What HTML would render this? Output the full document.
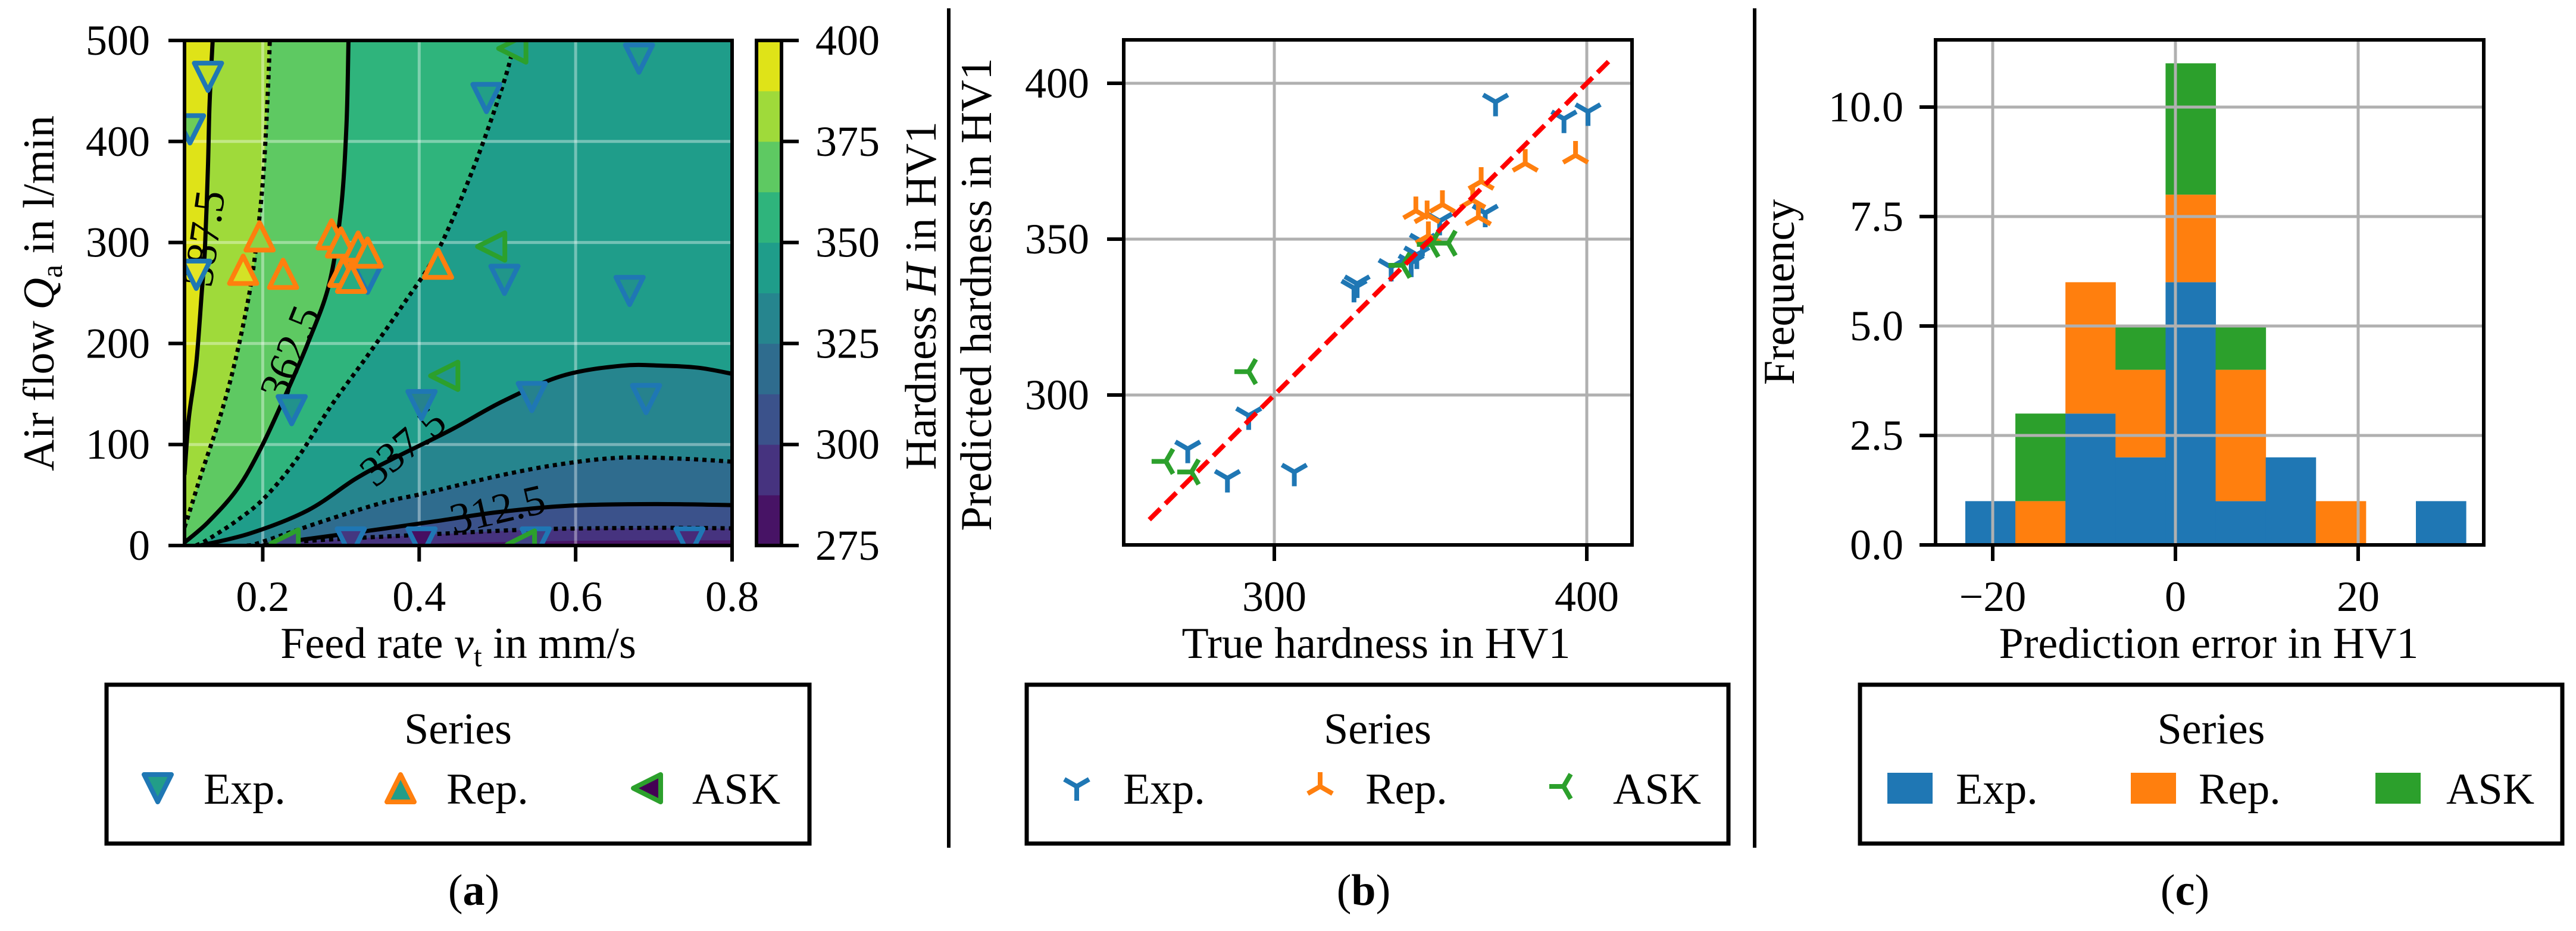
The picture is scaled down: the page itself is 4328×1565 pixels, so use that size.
<!DOCTYPE html>
<html><head><meta charset="utf-8"><title>Hardness figure</title>
<style>
html,body{margin:0;padding:0;background:#fff;}
svg{display:block;font-family:"Liberation Serif",serif;}
</style></head>
<body>
<svg id="fig" xmlns="http://www.w3.org/2000/svg" width="4328" height="1565" viewBox="0 0 4328 1565">
<defs>
<clipPath id="clipA"><rect x="310" y="68" width="920" height="849"/></clipPath>
<clipPath id="clipB"><rect x="1888" y="67" width="854" height="849"/></clipPath>
</defs>
<rect x="0" y="0" width="4328" height="1565" fill="#fff"/>
<g id="panelA"></g>
<g id="panelB"></g>
<g id="panelC"></g>
<g id="static"></g>
</svg>
<script>
// ---------- Panel (a) data ----------
const contourLevels = [287.5, 300, 312.5, 325, 337.5, 350, 362.5, 375, 387.5];
const contour287 = [[0.35,0],[0.45,3],[0.6,5],[0.8,5.5]];
const contour300 = [[0.2,0],[0.266,5],[0.412,11],[0.549,16],[0.7,17.5],[0.8,17]];
const contour312 = [[0.2,0],[0.243,5],[0.33,14],[0.421,24],[0.5,33],[0.594,39.5],[0.7,41],[0.8,40]];
const contour325 = [[0.18,0],[0.197,3],[0.281,25],[0.356,43],[0.403,51],[0.5075,70],[0.585,81],[0.6586,87],[0.734,86],[0.8,83]];
const contour337 = [[0.12,0],[0.184,12],[0.258,35],[0.3186,66],[0.364,85],[0.4395,114],[0.5075,143],[0.583,168],[0.6586,178],[0.7115,178],[0.757,176],[0.8,170]];
const contour350 = [[0.1146,0],[0.13,6],[0.1675,25],[0.202,47],[0.243,85],[0.288,139],[0.334,188],[0.379,238],[0.424,292],[0.470,375],[0.5075,457],[0.5226,500]];
const contour362 = [[0.1,3],[0.13,23],[0.1675,56],[0.198,97],[0.228,147],[0.258,201],[0.285,259],[0.300,333],[0.307,416],[0.3096,500]];
const contour375 = [[0.1,18],[0.1055,31],[0.122,72],[0.145,126],[0.164,180],[0.183,250],[0.194,312],[0.2015,375],[0.207,457],[0.209,500]];
const contour387 = [[0.1,70],[0.1055,126],[0.115,180],[0.122,250],[0.126,292],[0.130,375],[0.132,437],[0.136,500]];
const contourCurves = [contour287, contour300, contour312, contour325, contour337, contour350, contour362, contour375, contour387];
const contourSolid = [false, false, true, false, true, false, true, false, true];
const bandColors = ['#471365','#46337f','#3b528b','#2f6c8e','#26858e','#1f9d8a','#2fb47c','#5ec962','#9fda3a','#dfe318'];
const contourLabelText = ['387.5','362.5','337.5','312.5'];
const contourLabelPos = [[0.125,304],[0.235,191],[0.379,98],[0.50,36]];
const contourLabelRot = [-82,-68,-40,-13];

const aExpV = [0.130,0.107,0.115,0.681,0.486,0.509,0.669,0.334,0.237,0.403,0.544,0.690,0.3126,0.403,0.549,0.7455];
const aExpQ = [464,412,268,482,443,263,252,264,134,139,147,145,3,3,3,3];
const aExpH = [388,372,395,342,345,340,338,345,338,330,330,330,295,280,298,290];
const aRepV = [0.196,0.175,0.226,0.288,0.300,0.322,0.334,0.303,0.313,0.424];
const aRepQ = [306,273,269,308,300,296,290,271,265,279];
const aRepH = [378,392,370,362,360,352,355,350,352,352];
const aAskV = [0.519,0.492,0.432,0.228,0.530];
const aAskQ = [492,296,168,2,1];
const aAskH = [345,345,340,300,300];
const aXTicks = [0.2,0.4,0.6,0.8];
const aXTickLabels = ['0.2','0.4','0.6','0.8'];
const aYTicks = [0,100,200,300,400,500];
const cbTicks = [275,300,325,350,375,400];

// ---------- Panel (b) data ----------
const bExpTrue = [370.8,392.7,400.4,367.5,352.9,347.4,345.6,343.8,337.4,326.5,325.5,291.8,272.3,285.0,306.4];
const bExpPred = [394.0,388.6,390.9,358.4,355.8,349.1,345.0,342.4,341.0,335.7,334.3,293.4,282.7,273.3,275.3];
const bRepTrue = [396.4,380.3,366.2,363.5,365.3,353.8,345.3,348.9,349.3];
const bRepPred = [376.9,374.3,368.5,362.5,357.1,361.1,359.1,357.8,351.1];
const bAskTrue = [291.8,265.3,273.5,341.1,350.2,355.7];
const bAskPred = [307.5,278.7,275.3,341.6,348.3,348.7];
const bIdentity = [260, 407];
const bXTicks = [300,400];
const bYTicks = [300,350,400];

// ---------- Panel (c) data ----------
const cBinStart = -23.0;
const cBinWidth = 5.48;
const cExpCounts = [1,0,3,2,6,1,2,0,0,1];
const cRepCounts = [0,1,3,2,2,3,0,1,0,0];
const cAskCounts = [0,2,0,1,3,1,0,0,0,0];
const cXTicks = [-20,0,20];
const cXTickLabels = ['\u221220','0','20'];
const cYTicks = [0,2.5,5,7.5,10];
const cYTickLabels = ['0.0','2.5','5.0','7.5','10.0'];

const BLUE='#1f77b4', ORANGE='#ff7f0e', GREEN='#2ca02c';
const NS='http://www.w3.org/2000/svg';
function mk(tag, attrs, parent){const e=document.createElementNS(NS,tag);for(const k in attrs)e.setAttribute(k,attrs[k]);if(parent)parent.appendChild(e);return e;}
const VIR=['#440154','#482475','#414487','#355f8d','#2a788e','#21918c','#22a884','#44bf70','#7ad151','#bddf26','#fde725'];
function hex(c){return [parseInt(c.slice(1,3),16),parseInt(c.slice(3,5),16),parseInt(c.slice(5,7),16)];}
function viridis(t){t=Math.max(0,Math.min(1,t));const p=t*10;const i=Math.min(9,Math.floor(p));const f=p-i;const a=hex(VIR[i]),b=hex(VIR[i+1]);return 'rgb('+a.map((v,k)=>Math.round(v+(b[k]-v)*f)).join(',')+')';}
function smooth(pts){let d='M'+pts[0][0].toFixed(1)+','+pts[0][1].toFixed(1);for(let i=0;i<pts.length-1;i++){const p0=pts[i-1]||pts[i],p1=pts[i],p2=pts[i+1],p3=pts[i+2]||p2;const c1=[p1[0]+(p2[0]-p0[0])/6,p1[1]+(p2[1]-p0[1])/6];const c2=[p2[0]-(p3[0]-p1[0])/6,p2[1]-(p3[1]-p1[1])/6];d+=' C'+c1[0].toFixed(1)+','+c1[1].toFixed(1)+' '+c2[0].toFixed(1)+','+c2[1].toFixed(1)+' '+p2[0].toFixed(1)+','+p2[1].toFixed(1);}return d;}
function txt(parent,x,y,s,opts){const t=mk('text',Object.assign({x:x,y:y,'font-size':72,fill:'#000'},opts||{}),parent);t.textContent=s;return t;}

// ========== PANEL A ==========
const A=document.getElementById('panelA');
const xa=v=>310+(v-0.1)*1314.3;
const ya=q=>917-q*1.698;
const gFill=mk('g',{'clip-path':'url(#clipA)'},A);


mk('rect',{x:310,y:68,width:920,height:849,fill:bandColors[0]},gFill);
contourCurves.forEach((c,i)=>{
  const pts=c.map(p=>[xa(p[0]),ya(p[1])]);
  let d=smooth(pts);
  const last=c[c.length-1], first=c[0];
  if(last[1]<499) d+=' L'+xa(0.8)+','+ya(500);
  d+=' L'+xa(0.1)+','+ya(500);
  if(first[0]<=0.1001) d+=' L'+xa(0.1)+','+ya(first[1]); else {d+=' L'+xa(0.1)+','+ya(0);}
  d+=' Z';
  const p=mk('path',{d:d,fill:bandColors[i+1],stroke:bandColors[i+1],'stroke-width':1},gFill);
  
  
});
// grid
const gGridA=mk('g',{'clip-path':'url(#clipA)'},A);


aXTicks.forEach(v=>mk('line',{x1:xa(v),x2:xa(v),y1:68,y2:917,stroke:'rgba(255,255,255,0.38)','stroke-width':5},gGridA));
aYTicks.forEach(q=>mk('line',{x1:310,x2:1230,y1:ya(q),y2:ya(q),stroke:'rgba(255,255,255,0.38)','stroke-width':5},gGridA));
// contour lines
const gLines=mk('g',{'clip-path':'url(#clipA)'},A);


contourCurves.forEach((c,i)=>{
  if(i===0) return;
  const pts=c.map(p=>[xa(p[0]),ya(p[1])]);
  const l=mk('path',{d:smooth(pts),fill:'none',stroke:'#000','stroke-width':7,'stroke-dasharray':contourSolid[i]?'none':'7 7'},gLines);
  
  
});
contourLabelText.forEach((s,i)=>{
  const x=xa(contourLabelPos[i][0]), y=ya(contourLabelPos[i][1]);
  const t=txt(gLines,x,y+24,s,{'text-anchor':'middle',transform:'rotate('+contourLabelRot[i]+' '+x+' '+y+')'});
  
  
});
// markers
const gMk=mk('g',{'clip-path':'url(#clipA)'},A);


function tri(cx,cy,s,dir){
  if(dir==='down') return [[cx-s,cy-s],[cx+s,cy-s],[cx,cy+s]];
  if(dir==='up') return [[cx-s,cy+s],[cx+s,cy+s],[cx,cy-s]];
  return [[cx+s,cy-s],[cx+s,cy+s],[cx-s,cy]];
}
function triMarker(parent,cx,cy,dir,edge,fill,name){
  const p=mk('polygon',{points:tri(cx,cy,23,dir).map(q=>q.join(',')).join(' '),fill:fill,stroke:edge,'stroke-width':8,'stroke-linejoin':'round'},parent);
  
  
}
aExpV.forEach((v,i)=>triMarker(gMk,xa(v),ya(aExpQ[i]),'down',BLUE,viridis((aExpH[i]-275)/125),'exp-point'));
aRepV.forEach((v,i)=>triMarker(gMk,xa(v),ya(aRepQ[i]),'up',ORANGE,viridis((aRepH[i]-275)/125),'rep-point'));
aAskV.forEach((v,i)=>triMarker(gMk,xa(v),ya(aAskQ[i]),'left',GREEN,viridis((aAskH[i]-275)/125),'ask-point'));
// spines & ticks
const spA=mk('rect',{x:310,y:68,width:920,height:849,fill:'none',stroke:'#000','stroke-width':6},A);


aXTicks.forEach((v,i)=>{
  mk('line',{x1:xa(v),x2:xa(v),y1:917,y2:944,stroke:'#000','stroke-width':6},A);
  const t=txt(A,xa(v),1027,aXTickLabels[i],{'text-anchor':'middle'});
  
  
});
aYTicks.forEach(q=>{
  mk('line',{x1:283,x2:310,y1:ya(q),y2:ya(q),stroke:'#000','stroke-width':6},A);
  const t=txt(A,252,ya(q)+24,String(q),{'text-anchor':'end'});
  
  
});
// colorbar
const ycb=h=>917-(h-275)*6.792;
const gCb=mk('g',{},A);


bandColors.forEach((c,i)=>mk('rect',{x:1271,y:ycb(275+12.5*(i+1)),width:42,height:12.5*6.792+0.5,fill:c},gCb));
mk('rect',{x:1271,y:68,width:42,height:849,fill:'none',stroke:'#000','stroke-width':6},gCb);
cbTicks.forEach(h=>{
  mk('line',{x1:1313,x2:1342,y1:ycb(h),y2:ycb(h),stroke:'#000','stroke-width':6},gCb);
  const t=txt(gCb,1370,ycb(h)+24,String(h));
  
  
});

// ========== PANEL B ==========
const B=document.getElementById('panelB');
const xb=t=>2141+(t-300)*5.25;
const yb=p=>664-(p-300)*5.24;
const gGridB=mk('g',{},B);


bXTicks.forEach(t=>mk('line',{x1:xb(t),x2:xb(t),y1:67,y2:916,stroke:'#b0b0b0','stroke-width':5},gGridB));
bYTicks.forEach(p=>mk('line',{x1:1888,x2:2742,y1:yb(p),y2:yb(p),stroke:'#b0b0b0','stroke-width':5},gGridB));
const gB=mk('g',{'clip-path':'url(#clipB)'},B);


function yMarker(parent,cx,cy,dir,color,name){
  const r=24;let arms;
  if(dir==='down') arms=[[0,r],[-0.866*r,-r/2],[0.866*r,-r/2]];
  else if(dir==='up') arms=[[0,-r],[-0.866*r,r/2],[0.866*r,r/2]];
  else arms=[[-r,0],[r/2,-0.866*r],[r/2,0.866*r]];
  const d=arms.map(a=>'M'+cx+','+cy+' l'+a[0].toFixed(1)+','+a[1].toFixed(1)).join(' ');
  const p=mk('path',{d:d,stroke:color,'stroke-width':8,fill:'none'},parent);
  
  
}
bExpTrue.forEach((t,i)=>yMarker(gB,xb(t),yb(bExpPred[i]),'down',BLUE,'exp-point'));
bRepTrue.forEach((t,i)=>yMarker(gB,xb(t),yb(bRepPred[i]),'up',ORANGE,'rep-point'));
bAskTrue.forEach((t,i)=>yMarker(gB,xb(t),yb(bAskPred[i]),'left',GREEN,'ask-point'));
const idl=mk('line',{x1:xb(bIdentity[0]),y1:yb(bIdentity[0]),x2:xb(bIdentity[1]),y2:yb(bIdentity[1]),stroke:'#ff0000','stroke-width':8,'stroke-dasharray':'26 12'},B);


const spB=mk('rect',{x:1888,y:67,width:854,height:849,fill:'none',stroke:'#000','stroke-width':6},B);


bXTicks.forEach(t=>{
  mk('line',{x1:xb(t),x2:xb(t),y1:916,y2:943,stroke:'#000','stroke-width':6},B);
  const l=txt(B,xb(t),1027,String(t),{'text-anchor':'middle'});
  
  
});
bYTicks.forEach(p=>{
  mk('line',{x1:1860,x2:1888,y1:yb(p),y2:yb(p),stroke:'#000','stroke-width':6},B);
  const l=txt(B,1830,yb(p)+24,String(p),{'text-anchor':'end'});
  
  
});

// ========== PANEL C ==========
const C=document.getElementById('panelC');
const xc=e=>3655+e*15.35;
const yc=f=>916-f*73.6;
const gBars=mk('g',{},C);


cExpCounts.forEach((n,i)=>{
  const x0=xc(cBinStart+i*cBinWidth), x1=xc(cBinStart+(i+1)*cBinWidth);
  const stack=[[cExpCounts[i],BLUE,'exp'],[cRepCounts[i],ORANGE,'rep'],[cAskCounts[i],GREEN,'ask']];
  let base=0;
  stack.forEach(s=>{
    if(s[0]>0){
      const r=mk('rect',{x:x0,y:yc(base+s[0]),width:x1-x0+0.5,height:yc(base)-yc(base+s[0]),fill:s[1]},gBars);
      
      
    }
    base+=s[0];
  });
});
const gGridC=mk('g',{},C);


cXTicks.forEach(e=>mk('line',{x1:xc(e),x2:xc(e),y1:67,y2:916,stroke:'#b0b0b0','stroke-width':5},gGridC));
cYTicks.forEach(f=>mk('line',{x1:3252,x2:4173,y1:yc(f),y2:yc(f),stroke:'#b0b0b0','stroke-width':5},gGridC));
const spC=mk('rect',{x:3252,y:67,width:921,height:849,fill:'none',stroke:'#000','stroke-width':6},C);


cXTicks.forEach((e,i)=>{
  mk('line',{x1:xc(e),x2:xc(e),y1:916,y2:943,stroke:'#000','stroke-width':6},C);
  const l=txt(C,xc(e),1027,cXTickLabels[i],{'text-anchor':'middle'});
  
  
});
cYTicks.forEach((f,i)=>{
  mk('line',{x1:3225,x2:3252,y1:yc(f),y2:yc(f),stroke:'#000','stroke-width':6},C);
  const l=txt(C,3198,yc(f)+24,cYTickLabels[i],{'text-anchor':'end'});
  
  
});

// ========== labels, legends, separators ==========
const S=document.getElementById('static');
function rotLabel(x,y,html,name){
  const t=mk('text',{x:x,y:y,'font-size':74,'text-anchor':'middle',transform:'rotate(-90 '+x+' '+y+')'},S);
  t.innerHTML=html;
  
  
}
rotLabel(90,493,'Air flow <tspan font-style="italic">Q</tspan><tspan font-size="50" dy="14">a</tspan><tspan dy="-14"> in l/min</tspan>','y-axis-title-a');
rotLabel(1572,497,'Hardness <tspan font-style="italic">H</tspan> in HV1','colorbar-title');
rotLabel(1665,495,'Predicted hardness in HV1','y-axis-title-b');
rotLabel(3014,491,'Frequency','y-axis-title-c');
function hLabel(x,y,html,name){
  const t=mk('text',{x:x,y:y,'font-size':74,'text-anchor':'middle'},S);
  t.innerHTML=html;
  
  
}
hLabel(770,1106,'Feed rate <tspan font-style="italic">v</tspan><tspan font-size="50" dy="14">t</tspan><tspan dy="-14"> in mm/s</tspan>','x-axis-title-a');
hLabel(2312,1106,'True hardness in HV1','x-axis-title-b');
hLabel(3711,1106,'Prediction error in HV1','x-axis-title-c');
hLabel(796,1521,'(<tspan font-weight="bold">a</tspan>)','caption-a');
hLabel(2291,1521,'(<tspan font-weight="bold">b</tspan>)','caption-b');
hLabel(3671,1521,'(<tspan font-weight="bold">c</tspan>)','caption-c');
[1594,2948].forEach(x=>{
  const l=mk('line',{x1:x,x2:x,y1:14,y2:1425,stroke:'#000','stroke-width':6},S);
  
  
});
function legendBox(x0,x1,name){
  const g=mk('g',{},S);
  
  
  mk('rect',{x:x0,y:1151,width:x1-x0,height:267,fill:'#fff',stroke:'#000','stroke-width':7},g);
  const t=txt(g,(x0+x1)/2,1250,'Series',{'text-anchor':'middle','font-size':74});
  
  
  return g;
}
function legText(g,x,s){const t=txt(g,x,1351,s,{'font-size':74});}
const LA=legendBox(179,1360,'legend-a');
triMarker(LA,265,1325,'down',BLUE,viridis(0.55),'legend-marker-exp');
triMarker(LA,673,1325,'up',ORANGE,viridis(0.55),'legend-marker-rep');
triMarker(LA,1087,1325,'left',GREEN,'#440154','legend-marker-ask');
legText(LA,342,'Exp.');legText(LA,750,'Rep.');legText(LA,1163,'ASK');
const LB=legendBox(1725,2904,'legend-b');
yMarker(LB,1809,1322,'down',BLUE,'legend-marker-exp');
yMarker(LB,2218,1322,'up',ORANGE,'legend-marker-rep');
yMarker(LB,2627,1322,'left',GREEN,'legend-marker-ask');
legText(LB,1887,'Exp.');legText(LB,2294,'Rep.');legText(LB,2710,'ASK');
const LC=legendBox(3125,4305,'legend-c');
[[3171,BLUE,'exp'],[3580,ORANGE,'rep'],[3991,GREEN,'ask']].forEach(p=>{
  const r=mk('rect',{x:p[0],y:1299,width:76,height:52,fill:p[1]},LC);
  
  
});
legText(LC,3286,'Exp.');legText(LC,3694,'Rep.');legText(LC,4110,'ASK');
</script>
</body></html>
